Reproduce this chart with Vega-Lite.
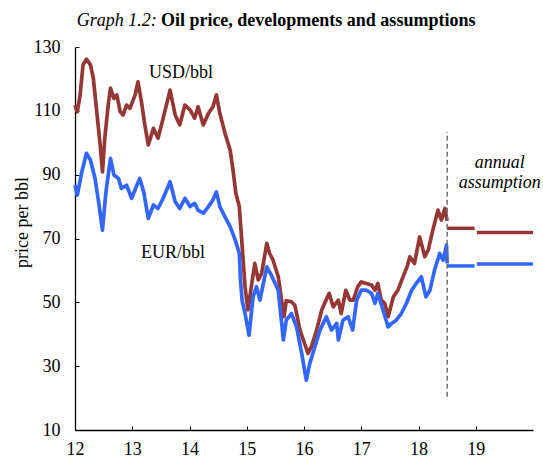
{
  "$schema": "https://vega.github.io/schema/vega-lite/v6.json",
  "width": 458,
  "height": 383,
  "autosize": {"type": "none"},
  "padding": {"left": 75, "top": 47, "right": 10, "bottom": 29},
  "background": "white",
  "datasets": {
    "series": [
      {"t":12.00,"p":111.8,"s":"USD"},{"t":12.04,"p":109.7,"s":"USD"},{"t":12.09,"p":115.0,"s":"USD"},{"t":12.14,"p":124.4,"s":"USD"},{"t":12.20,"p":126.2,"s":"USD"},{"t":12.27,"p":124.4,"s":"USD"},{"t":12.32,"p":120.2,"s":"USD"},{"t":12.38,"p":109.7,"s":"USD"},{"t":12.44,"p":99.3,"s":"USD"},{"t":12.48,"p":90.9,"s":"USD"},{"t":12.52,"p":101.4,"s":"USD"},{"t":12.58,"p":111.8,"s":"USD"},{"t":12.62,"p":117.1,"s":"USD"},{"t":12.68,"p":113.9,"s":"USD"},{"t":12.73,"p":115.0,"s":"USD"},{"t":12.79,"p":109.7,"s":"USD"},{"t":12.84,"p":108.7,"s":"USD"},{"t":12.90,"p":111.8,"s":"USD"},{"t":12.96,"p":110.8,"s":"USD"},{"t":13.05,"p":115.0,"s":"USD"},{"t":13.10,"p":119.1,"s":"USD"},{"t":13.16,"p":112.9,"s":"USD"},{"t":13.22,"p":105.6,"s":"USD"},{"t":13.28,"p":99.3,"s":"USD"},{"t":13.37,"p":104.5,"s":"USD"},{"t":13.45,"p":101.4,"s":"USD"},{"t":13.54,"p":107.7,"s":"USD"},{"t":13.66,"p":116.5,"s":"USD"},{"t":13.75,"p":108.7,"s":"USD"},{"t":13.83,"p":105.6,"s":"USD"},{"t":13.92,"p":111.8,"s":"USD"},{"t":14.01,"p":110.3,"s":"USD"},{"t":14.09,"p":107.7,"s":"USD"},{"t":14.15,"p":111.3,"s":"USD"},{"t":14.24,"p":105.6,"s":"USD"},{"t":14.33,"p":109.2,"s":"USD"},{"t":14.41,"p":111.3,"s":"USD"},{"t":14.47,"p":115.0,"s":"USD"},{"t":14.53,"p":109.2,"s":"USD"},{"t":14.62,"p":103.0,"s":"USD"},{"t":14.71,"p":97.7,"s":"USD"},{"t":14.76,"p":91.5,"s":"USD"},{"t":14.81,"p":84.1,"s":"USD"},{"t":14.87,"p":80.0,"s":"USD"},{"t":14.91,"p":70.0,"s":"USD"},{"t":14.95,"p":60.0,"s":"USD"},{"t":14.97,"p":55.0,"s":"USD"},{"t":15.02,"p":47.6,"s":"USD"},{"t":15.08,"p":54.9,"s":"USD"},{"t":15.14,"p":62.2,"s":"USD"},{"t":15.20,"p":57.0,"s":"USD"},{"t":15.26,"p":59.1,"s":"USD"},{"t":15.35,"p":68.5,"s":"USD"},{"t":15.40,"p":65.3,"s":"USD"},{"t":15.46,"p":63.2,"s":"USD"},{"t":15.55,"p":58.0,"s":"USD"},{"t":15.65,"p":45.5,"s":"USD"},{"t":15.69,"p":50.5,"s":"USD"},{"t":15.78,"p":50.2,"s":"USD"},{"t":15.84,"p":49.1,"s":"USD"},{"t":15.93,"p":41.3,"s":"USD"},{"t":16.01,"p":37.1,"s":"USD"},{"t":16.07,"p":34.0,"s":"USD"},{"t":16.13,"p":36.1,"s":"USD"},{"t":16.22,"p":41.3,"s":"USD"},{"t":16.31,"p":47.6,"s":"USD"},{"t":16.36,"p":49.7,"s":"USD"},{"t":16.44,"p":52.8,"s":"USD"},{"t":16.51,"p":48.6,"s":"USD"},{"t":16.60,"p":50.7,"s":"USD"},{"t":16.65,"p":46.5,"s":"USD"},{"t":16.73,"p":53.8,"s":"USD"},{"t":16.80,"p":50.7,"s":"USD"},{"t":16.86,"p":50.7,"s":"USD"},{"t":16.94,"p":54.9,"s":"USD"},{"t":17.00,"p":56.4,"s":"USD"},{"t":17.09,"p":55.9,"s":"USD"},{"t":17.18,"p":55.4,"s":"USD"},{"t":17.24,"p":53.8,"s":"USD"},{"t":17.29,"p":55.9,"s":"USD"},{"t":17.35,"p":50.7,"s":"USD"},{"t":17.41,"p":49.7,"s":"USD"},{"t":17.47,"p":45.5,"s":"USD"},{"t":17.56,"p":51.7,"s":"USD"},{"t":17.64,"p":53.8,"s":"USD"},{"t":17.73,"p":58.0,"s":"USD"},{"t":17.80,"p":61.1,"s":"USD"},{"t":17.85,"p":64.3,"s":"USD"},{"t":17.93,"p":62.2,"s":"USD"},{"t":18.02,"p":70.5,"s":"USD"},{"t":18.11,"p":64.3,"s":"USD"},{"t":18.17,"p":66.4,"s":"USD"},{"t":18.25,"p":72.6,"s":"USD"},{"t":18.34,"p":78.9,"s":"USD"},{"t":18.40,"p":75.8,"s":"USD"},{"t":18.46,"p":79.4,"s":"USD"},{"t":18.50,"p":75.5,"s":"USD"},
      {"t":12.00,"p":86.7,"s":"EUR"},{"t":12.04,"p":83.6,"s":"EUR"},{"t":12.12,"p":90.9,"s":"EUR"},{"t":12.20,"p":96.7,"s":"EUR"},{"t":12.27,"p":94.6,"s":"EUR"},{"t":12.35,"p":88.8,"s":"EUR"},{"t":12.42,"p":80.5,"s":"EUR"},{"t":12.48,"p":72.6,"s":"EUR"},{"t":12.54,"p":84.6,"s":"EUR"},{"t":12.62,"p":95.1,"s":"EUR"},{"t":12.68,"p":89.9,"s":"EUR"},{"t":12.76,"p":88.8,"s":"EUR"},{"t":12.81,"p":85.7,"s":"EUR"},{"t":12.90,"p":86.7,"s":"EUR"},{"t":12.99,"p":82.6,"s":"EUR"},{"t":13.08,"p":86.7,"s":"EUR"},{"t":13.13,"p":88.8,"s":"EUR"},{"t":13.20,"p":84.6,"s":"EUR"},{"t":13.28,"p":76.3,"s":"EUR"},{"t":13.37,"p":80.5,"s":"EUR"},{"t":13.45,"p":79.4,"s":"EUR"},{"t":13.54,"p":82.6,"s":"EUR"},{"t":13.66,"p":87.8,"s":"EUR"},{"t":13.75,"p":81.5,"s":"EUR"},{"t":13.83,"p":79.4,"s":"EUR"},{"t":13.92,"p":82.6,"s":"EUR"},{"t":14.01,"p":80.0,"s":"EUR"},{"t":14.09,"p":81.0,"s":"EUR"},{"t":14.15,"p":78.9,"s":"EUR"},{"t":14.24,"p":77.9,"s":"EUR"},{"t":14.33,"p":80.0,"s":"EUR"},{"t":14.41,"p":82.1,"s":"EUR"},{"t":14.47,"p":84.6,"s":"EUR"},{"t":14.53,"p":80.0,"s":"EUR"},{"t":14.62,"p":76.8,"s":"EUR"},{"t":14.71,"p":73.7,"s":"EUR"},{"t":14.80,"p":69.5,"s":"EUR"},{"t":14.87,"p":65.3,"s":"EUR"},{"t":14.89,"p":57.0,"s":"EUR"},{"t":14.92,"p":50.5,"s":"EUR"},{"t":14.97,"p":46.5,"s":"EUR"},{"t":15.04,"p":39.7,"s":"EUR"},{"t":15.11,"p":51.7,"s":"EUR"},{"t":15.17,"p":54.9,"s":"EUR"},{"t":15.23,"p":50.7,"s":"EUR"},{"t":15.35,"p":61.1,"s":"EUR"},{"t":15.43,"p":58.5,"s":"EUR"},{"t":15.55,"p":53.8,"s":"EUR"},{"t":15.64,"p":38.2,"s":"EUR"},{"t":15.69,"p":44.4,"s":"EUR"},{"t":15.78,"p":46.5,"s":"EUR"},{"t":15.87,"p":42.3,"s":"EUR"},{"t":15.96,"p":34.0,"s":"EUR"},{"t":16.04,"p":25.6,"s":"EUR"},{"t":16.10,"p":30.8,"s":"EUR"},{"t":16.19,"p":36.1,"s":"EUR"},{"t":16.28,"p":41.3,"s":"EUR"},{"t":16.39,"p":45.5,"s":"EUR"},{"t":16.48,"p":41.3,"s":"EUR"},{"t":16.57,"p":43.4,"s":"EUR"},{"t":16.60,"p":38.2,"s":"EUR"},{"t":16.68,"p":44.4,"s":"EUR"},{"t":16.77,"p":45.5,"s":"EUR"},{"t":16.85,"p":41.3,"s":"EUR"},{"t":16.92,"p":50.7,"s":"EUR"},{"t":17.00,"p":53.8,"s":"EUR"},{"t":17.09,"p":53.8,"s":"EUR"},{"t":17.18,"p":52.8,"s":"EUR"},{"t":17.24,"p":49.7,"s":"EUR"},{"t":17.29,"p":52.8,"s":"EUR"},{"t":17.38,"p":47.6,"s":"EUR"},{"t":17.47,"p":42.3,"s":"EUR"},{"t":17.53,"p":43.4,"s":"EUR"},{"t":17.61,"p":44.4,"s":"EUR"},{"t":17.70,"p":46.5,"s":"EUR"},{"t":17.79,"p":49.7,"s":"EUR"},{"t":17.88,"p":53.8,"s":"EUR"},{"t":17.96,"p":55.9,"s":"EUR"},{"t":18.05,"p":58.0,"s":"EUR"},{"t":18.13,"p":51.7,"s":"EUR"},{"t":18.20,"p":53.8,"s":"EUR"},{"t":18.28,"p":60.1,"s":"EUR"},{"t":18.37,"p":65.3,"s":"EUR"},{"t":18.43,"p":63.2,"s":"EUR"},{"t":18.49,"p":67.9,"s":"EUR"},{"t":18.50,"p":62.2,"s":"EUR"}
    ],
    "assumptions": [
      {"t":18.5,"t2":18.98,"p":73.2,"s":"USD"},
      {"t":19.02,"t2":20.0,"p":71.9,"s":"USD"},
      {"t":18.5,"t2":18.98,"p":61.4,"s":"EUR"},
      {"t":19.02,"t2":20.0,"p":62.0,"s":"EUR"}
    ],
    "divider": [{"t":18.5,"p":20.4,"p2":103.4}],
    "labels": [
      {"t":13.85,"p":121.8,"txt":"USD/bbl"},
      {"t":13.71,"p":65.4,"txt":"EUR/bbl"}
    ],
    "italicLabels": [
      {"t":19.42,"p":93.5,"txt":"annual"},
      {"t":19.42,"p":87.3,"txt":"assumption"}
    ],
    "titleLead": [{"t":13.43,"p":138.2,"txt":"Graph 1.2:"}],
    "titleMain": [{"t":13.50,"p":138.2,"txt":"Oil price, developments and assumptions"}]
  },
  "encoding": {
    "x": {"field":"t","type":"quantitative","scale":{"domain":[12,20],"nice":false,"zero":false},
      "axis":{"title":null,"values":[12,13,14,15,16,17,18,19],"labelFlush":false,"format":"d","labelPadding":14}},
    "y": {"field":"p","type":"quantitative","scale":{"domain":[10,130],"nice":false,"zero":false},
      "axis":{"title":"price per bbl","values":[10,30,50,70,90,110,130],"labelFlush":false,"labelPadding":19,"titleX":-44,"titleY":175}}
  },
  "layer": [
    {
      "data":{"name":"series"},
      "mark":{"type":"line","strokeWidth":3.7,"strokeJoin":"round"},
      "encoding":{
        "color":{"field":"s","type":"nominal","scale":{"domain":["USD","EUR"],"range":["#953735","#3366FF"]},"legend":null}
      }
    },
    {
      "data":{"name":"assumptions"},
      "mark":{"type":"rule","strokeWidth":3.5},
      "encoding":{
        "x2":{"field":"t2"},
        "color":{"field":"s","type":"nominal","scale":{"domain":["USD","EUR"],"range":["#953735","#3366FF"]},"legend":null}
      }
    },
    {
      "data":{"name":"divider"},
      "mark":{"type":"rule","strokeWidth":1.5,"strokeDash":[5,3],"color":"#6b6b6b"},
      "encoding":{"y2":{"field":"p2"}}
    },
    {
      "data":{"name":"labels"},
      "mark":{"type":"text","fontSize":18,"font":"Liberation Serif","color":"black","align":"center","baseline":"middle"},
      "encoding":{"text":{"field":"txt"}}
    },
    {
      "data":{"name":"italicLabels"},
      "mark":{"type":"text","fontSize":18,"font":"Liberation Serif","fontStyle":"italic","color":"black","align":"center","baseline":"middle"},
      "encoding":{"text":{"field":"txt"}}
    },
    {
      "data":{"name":"titleLead"},
      "mark":{"type":"text","fontSize":18,"font":"Liberation Serif","fontStyle":"italic","color":"black","align":"right","baseline":"middle"},
      "encoding":{"text":{"field":"txt"}}
    },
    {
      "data":{"name":"titleMain"},
      "mark":{"type":"text","fontSize":18,"font":"Liberation Serif","fontWeight":"bold","color":"black","align":"left","baseline":"middle"},
      "encoding":{"text":{"field":"txt"}}
    }
  ],
  "config": {
    "font": "Liberation Serif",
    "view": {"stroke": null},
    "axis": {
      "grid": false,
      "domainColor": "black",
      "domainWidth": 1.3,
      "tickColor": "black",
      "tickWidth": 1,
      "tickSize": -4,
      "labelColor": "black",
      "labelFontSize": 18,
      "labelFont": "Liberation Serif",
      "titleColor": "black",
      "titleFontSize": 18,
      "titleFont": "Liberation Serif",
      "titleFontWeight": "normal"
    }
  }
}
